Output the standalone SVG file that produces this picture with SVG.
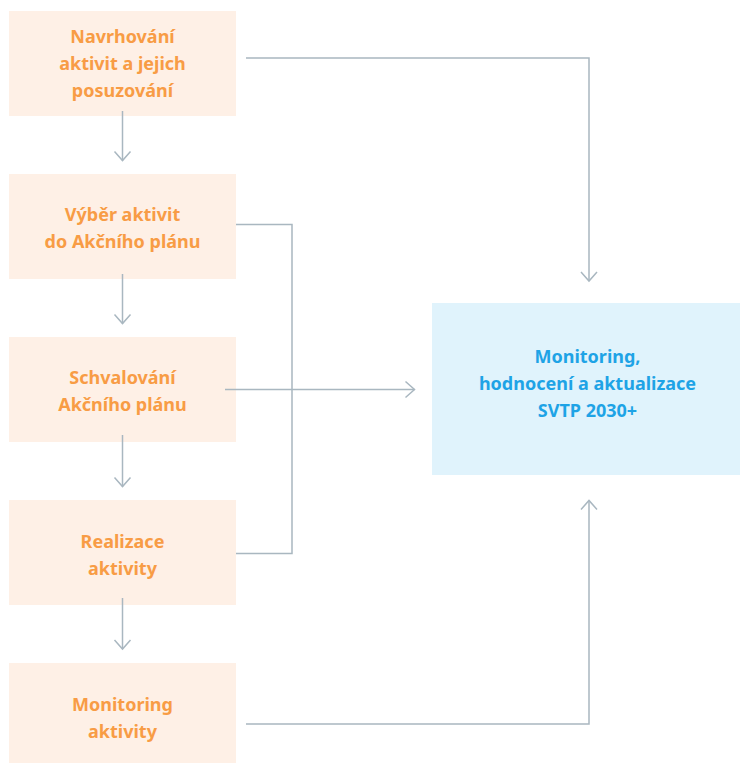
<svg xmlns="http://www.w3.org/2000/svg" width="740" height="763" viewBox="0 0 740 763">
<defs>
<style>
.box{fill:#fef0e6}
.tbox{fill:#e0f3fc}
.t{font-family:"Noto Sans","Open Sans","Liberation Sans",sans-serif;font-weight:700;font-size:18px;fill:#f89c45;text-anchor:middle}
.tb{fill:#1ea3e6}
.c{fill:none;stroke:#a9b7c0;stroke-width:1.5}
</style>
<marker id="ah" markerWidth="20" markerHeight="20" refX="10" refY="8" orient="auto" markerUnits="userSpaceOnUse" viewBox="0 0 20 16">
<path d="M1,0 L10,8 L1,16" fill="none" stroke="#a9b7c0" stroke-width="1.5"/>
</marker>
</defs>
<rect width="740" height="763" fill="#ffffff"/>
<g id="n1"><rect class="box" x="9" y="11" width="227" height="105"/><text class="t"><tspan x="122.5" y="43">Navrhování</tspan><tspan x="122.5" y="70">aktivit a jejich</tspan><tspan x="122.5" y="97">posuzování</tspan></text></g>
<g id="n2"><rect class="box" x="9" y="174" width="227" height="105"/><text class="t"><tspan x="122.5" y="221">Výběr aktivit</tspan><tspan x="122.5" y="248">do Akčního plánu</tspan></text></g>
<g id="n3"><rect class="box" x="9" y="337" width="227" height="105"/><text class="t"><tspan x="122.5" y="384">Schvalování</tspan><tspan x="122.5" y="411">Akčního plánu</tspan></text></g>
<g id="n4"><rect class="box" x="9" y="500" width="227" height="105"/><text class="t"><tspan x="122.5" y="548">Realizace</tspan><tspan x="122.5" y="575">aktivity</tspan></text></g>
<g id="n5"><rect class="box" x="9" y="663" width="227" height="105"/><text class="t"><tspan x="122.5" y="711">Monitoring</tspan><tspan x="122.5" y="738">aktivity</tspan></text></g>
<g id="n6"><rect class="tbox" x="432" y="303" width="308" height="172"/><text class="t tb"><tspan x="587.5" y="363">Monitoring,</tspan><tspan x="587.5" y="390">hodnocení a aktualizace</tspan><tspan x="587.5" y="417">SVTP 2030+</tspan></text></g>
<g id="connectors">
<path class="c" d="M122.5,111 V160.5" marker-end="url(#ah)"/>
<path class="c" d="M122.5,274 V323.5" marker-end="url(#ah)"/>
<path class="c" d="M122.5,435 V486.5" marker-end="url(#ah)"/>
<path class="c" d="M122.5,598 V649" marker-end="url(#ah)"/>
<path class="c" d="M246,58 H589 V281" marker-end="url(#ah)"/>
<path class="c" d="M236,224.5 H292 V553.5 H236"/>
<path class="c" d="M225,389.5 H414.5" marker-end="url(#ah)"/>
<path class="c" d="M246,724 H589 V500.5" marker-end="url(#ah)"/>
</g>
</svg>
